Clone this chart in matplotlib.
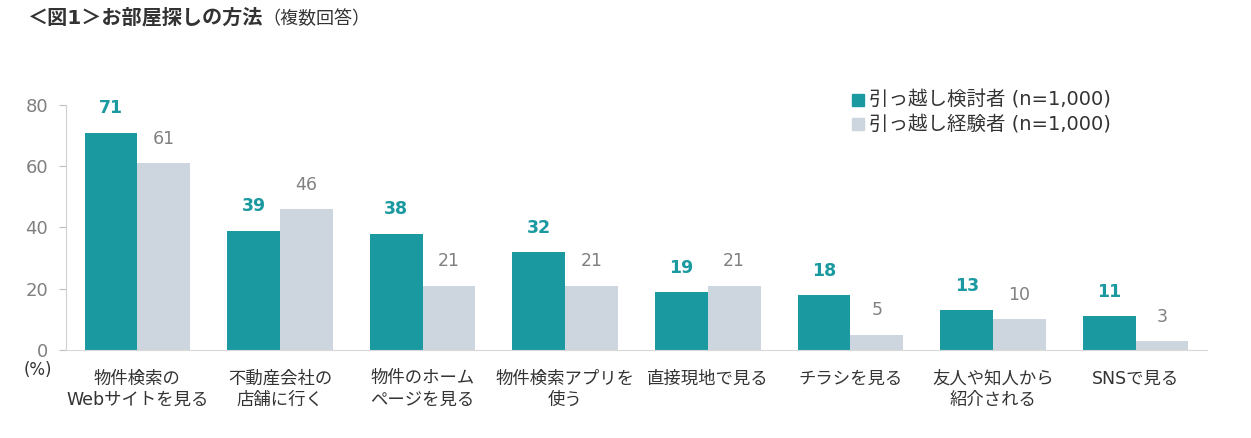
import matplotlib
import numpy as np

matplotlib.use('Agg')
from matplotlib import pyplot as plt
from matplotlib.patches import Rectangle

plt.rcParams['font.family'] = ['DejaVu Sans', 'Noto Sans CJK JP']

categories = ["物件検索の\nWebサイトを見る", "不動産会社の\n店舗に行く", "物件のホーム\nページを見る",
              "物件検索アプリを\n使う", "直接現地で見る", "チラシを見る",
              "友人や知人から\n紹介される", "SNSで見る"]
considering = [71, 39, 38, 32, 19, 18, 13, 11]
experienced = [61, 46, 21, 21, 21, 5, 10, 3]
series_names = ["引っ越し検討者 (n=1,000)", "引っ越し経験者 (n=1,000)"]

teal = "#1A9AA0"
grey = "#CDD5DE"
txt = "#808080"

fig = plt.figure(figsize=(12.51, 4.38), dpi=100)
ax = fig.add_axes([0.0528, 0.2009, 0.912, 0.5594])

x = np.arange(len(categories))
w = 0.37
ax.bar(x - w / 2, considering, w, color=teal)
ax.bar(x + w / 2, experienced, w, color=grey)
for i in range(len(x)):
    ax.text(x[i] - w / 2, considering[i] + 5, str(considering[i]), ha="center", va="bottom",
            color=teal, fontsize=12.5, fontweight="bold")
    ax.text(x[i] + w / 2, experienced[i] + 5, str(experienced[i]), ha="center", va="bottom",
            color=txt, fontsize=12.5)

ax.set_xlim(-0.5, len(x) - 0.5)
ax.set_ylim(0, 80)
ax.set_yticks([0, 20, 40, 60, 80])
ax.tick_params(axis="y", colors="#BFBFBF", labelcolor=txt, labelsize=13, length=5, pad=8)
ax.tick_params(axis="x", length=0, labelsize=12.5, labelcolor="#333333", pad=14)
ax.set_xticks(x)
ax.set_xticklabels(categories, linespacing=1.25, va="top")
for s in ["top", "right"]:
    ax.spines[s].set_visible(False)
ax.spines["left"].set_color("#D0D0D0")
ax.spines["bottom"].set_color("#D9D9D9")

fig.text(38 / 1251, 1 - 370 / 438, "(%)", ha="center", va="center", fontsize=12, color="#333333")

# title
fig.text(28 / 1251, 1 - 18 / 438, "＜図1＞お部屋探しの方法", ha="left", va="center",
         fontsize=14.5, fontweight="bold", color="#333333")
fig.text(262 / 1251, 1 - 19 / 438, "（複数回答）", ha="left", va="center", fontsize=13, color="#333333")

# legend
for j, (name, col) in enumerate(zip(series_names, [teal, grey])):
    yy = 1 - (100 + j * 24) / 438
    fig.patches.append(Rectangle((852 / 1251, yy - 6 / 438), 12 / 1251, 12 / 438,
                                 transform=fig.transFigure, color=col))
    fig.text(869 / 1251, yy, name, ha="left", va="center", fontsize=14, color="#333333")

fig.savefig("out.png", dpi=100)
